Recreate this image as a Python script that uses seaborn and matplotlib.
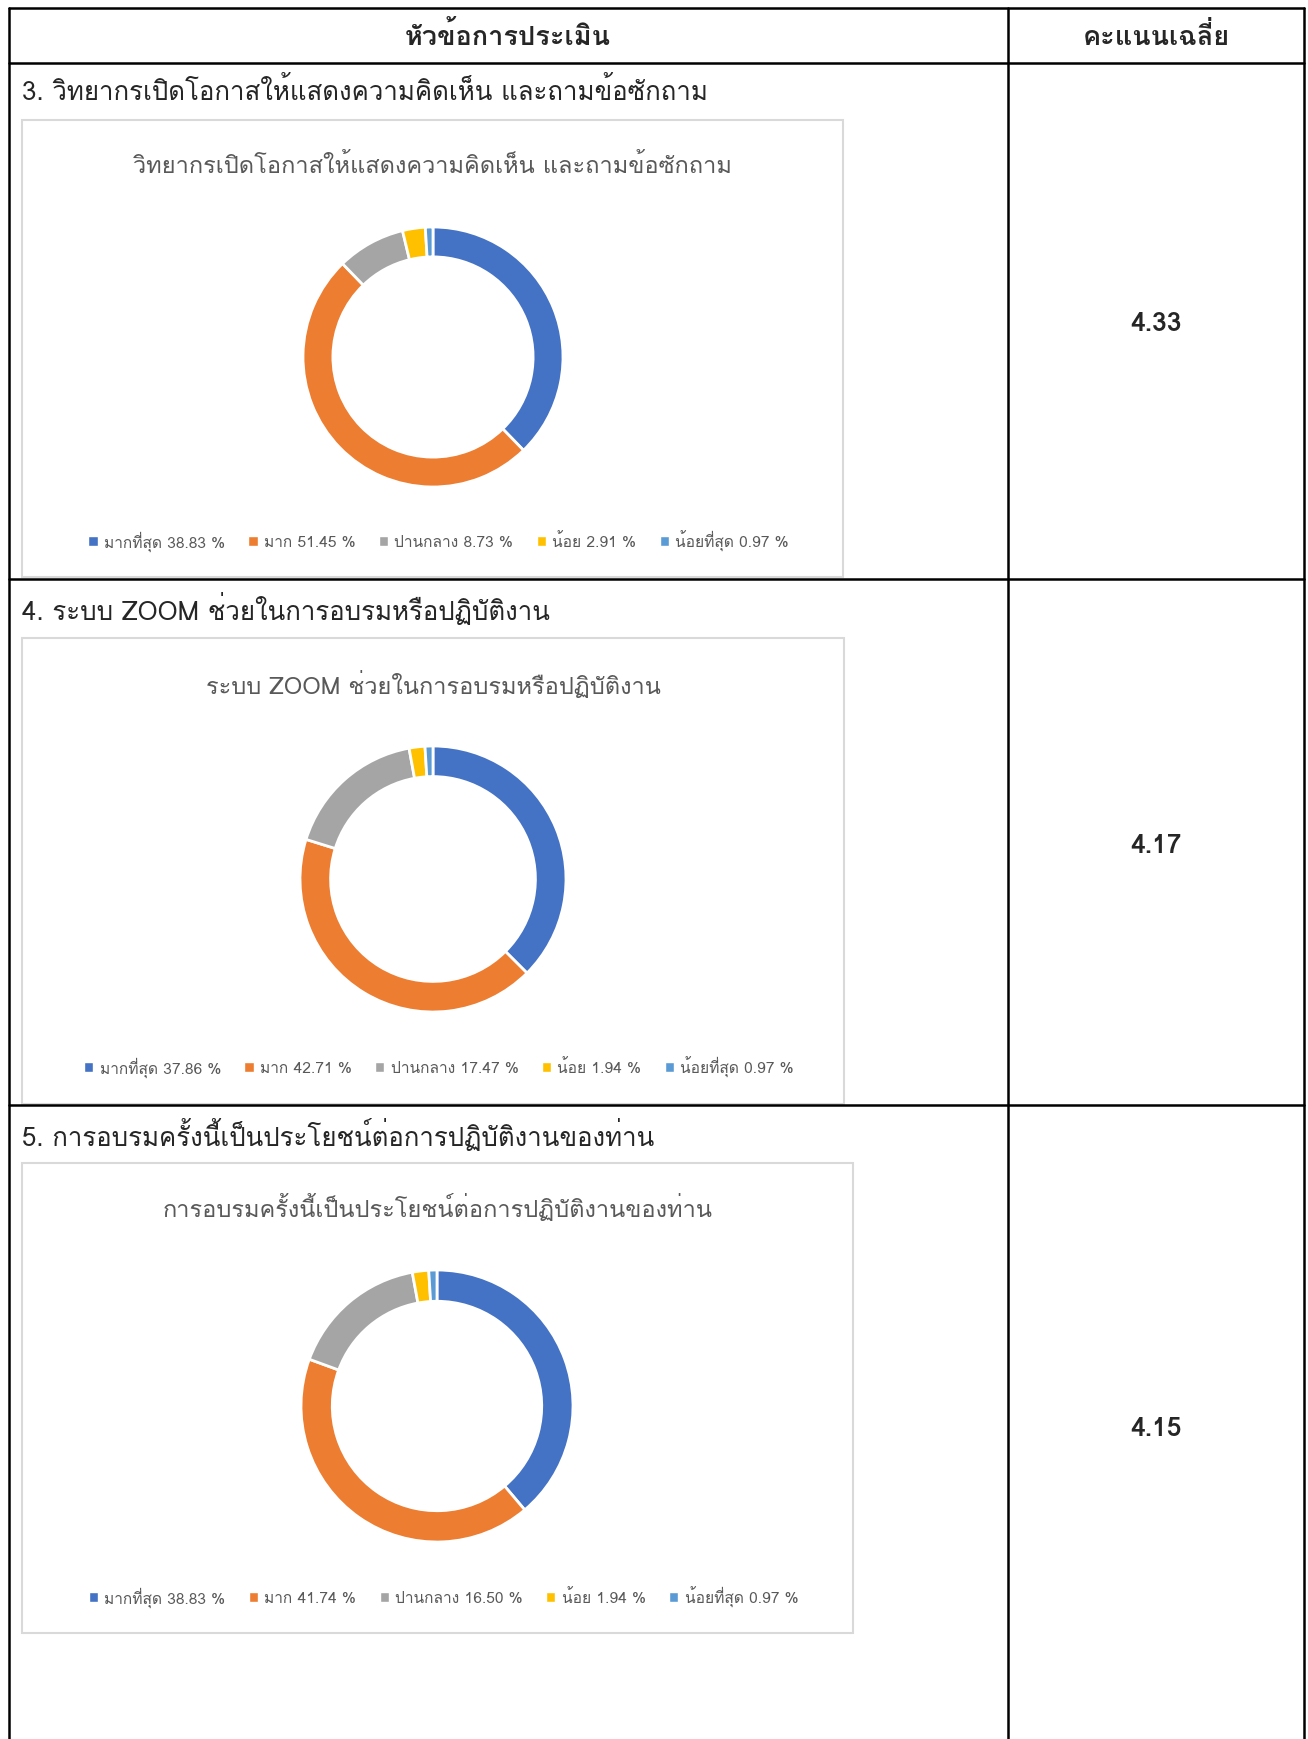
import matplotlib
matplotlib.use('Agg')
import matplotlib.pyplot as plt
import seaborn as sns
from matplotlib import font_manager
from matplotlib.ft2font import FT2Font
from matplotlib.patches import Rectangle, Patch

# data
header_left = 'หัวข้อการประเมิน'
header_right = 'คะแนนเฉลี่ย'
row_labels = ['3. วิทยากรเปิดโอกาสให้แสดงความคิดเห็น และถามข้อซักถาม',
              '4. ระบบ ZOOM ช่วยในการอบรมหรือปฏิบัติงาน',
              '5. การอบรมครั้งนี้เป็นประโยชน์ต่อการปฏิบัติงานของท่าน']
chart_titles = ['วิทยากรเปิดโอกาสให้แสดงความคิดเห็น และถามข้อซักถาม',
                'ระบบ ZOOM ช่วยในการอบรมหรือปฏิบัติงาน',
                'การอบรมครั้งนี้เป็นประโยชน์ต่อการปฏิบัติงานของท่าน']
levels = ['มากที่สุด', 'มาก', 'ปานกลาง', 'น้อย', 'น้อยที่สุด']
pct_q3 = [38.83, 51.45, 8.73, 2.91, 0.97]
pct_q4 = [37.86, 42.71, 17.47, 1.94, 0.97]
pct_q5 = [38.83, 41.74, 16.50, 1.94, 0.97]
scores = [4.33, 4.17, 4.15]

colors = ['#4472C4', '#ED7D31', '#A5A5A5', '#FFC000', '#5B9BD5']

sns.set_theme(style='white')


def find_thai():
    prefer = []
    other = []
    for f in font_manager.fontManager.ttflist:
        try:
            if 0x0E01 in FT2Font(f.fname).get_charmap():
                if 'Looped' in f.name:
                    other.append(f.name)
                else:
                    prefer.append(f.name)
        except Exception:
            pass
    names = prefer + other
    return names[0] if names else None


thai = find_thai()
fams = ([thai] if thai else []) + ['DejaVu Sans']
plt.rcParams['font.family'] = fams

W, H = 1308, 1740
fig = plt.figure(figsize=(W / 100, H / 100), dpi=100)
base = fig.add_axes([0, 0, 1, 1])
base.set_xlim(0, W)
base.set_ylim(H, 0)
base.axis('off')

# table grid
lw = 1.8
base.plot([9, 1304], [9, 9], color='black', lw=lw)
for y in [64, 580, 1106]:
    base.plot([9, 1304], [y, y], color='black', lw=lw)
for x in [9, 1008, 1304]:
    base.plot([x, x], [9, H], color='black', lw=lw)

base.text(508, 36, header_left, ha='center', va='center', fontsize=19.5, fontweight='bold')
base.text(1156, 36, header_right, ha='center', va='center', fontsize=19.5, fontweight='bold')

label_y = [91, 609, 1135]
score_y = [324, 846, 1429]
boxes = [(22, 121, 843, 578), (22, 639, 844, 1105), (22, 1164, 853, 1634)]
title_y = [166, 685, 1208]
legend_y = [541, 1067, 1597]
donuts = [(433, 358, 130), (433, 880, 133), (437, 1407, 136)]
all_pct = [pct_q3, pct_q4, pct_q5]

for i in range(3):
    base.text(22, label_y[i], row_labels[i], ha='left', va='center', fontsize=18.6)
    base.text(1156, score_y[i], f'{scores[i]:.2f}', ha='center', va='center',
              fontsize=19, fontweight='semibold')

    x0, y0, x1, y1 = boxes[i]
    base.add_patch(Rectangle((x0, y0), x1 - x0, y1 - y0, fill=False,
                             edgecolor='#D9D9D9', lw=1.5))
    cx = (x0 + x1) / 2
    base.text(cx, title_y[i], chart_titles[i], ha='center', va='center',
              fontsize=17, color='#595959')

    dx, dy, r = donuts[i]
    ax = fig.add_axes([(dx - r) / W, 1 - (dy + r) / H, 2 * r / W, 2 * r / H])
    ax.pie(all_pct[i], colors=colors, startangle=90, counterclock=False,
           wedgeprops=dict(width=0.23, edgecolor='white', linewidth=2))
    ax.set_xlim(-1, 1)
    ax.set_ylim(-1, 1)
    ax.axis('off')

    handles = [Patch(facecolor=c) for c in colors]
    labels = [f'{n} {v:.2f} %' for n, v in zip(levels, all_pct[i])]
    ax.legend(handles, labels, loc='center', bbox_to_anchor=(cx + 6, legend_y[i]),
              bbox_transform=base.transData, ncol=5, frameon=False,
              handlelength=0.6, handleheight=0.6, handletextpad=0.4,
              columnspacing=1.5, fontsize=11.2, labelcolor='#595959')

fig.savefig('out.png', dpi=100)
